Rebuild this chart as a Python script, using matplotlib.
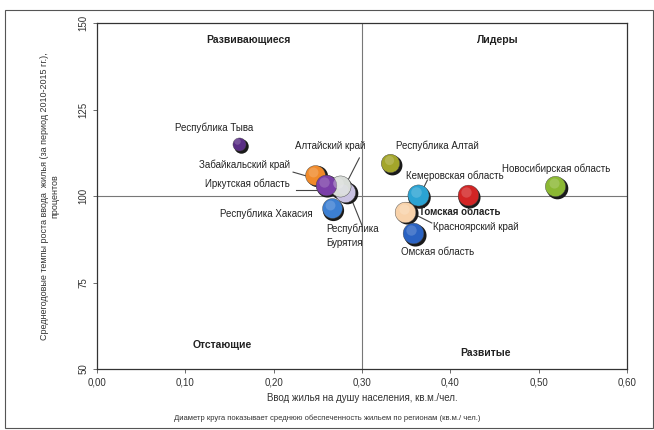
import numpy as np
import matplotlib
matplotlib.use("Agg")
import matplotlib.pyplot as plt
from matplotlib.patches import Rectangle
from matplotlib.colors import to_rgb

plt.rcParams['font.family'] = ['Liberation Sans', 'DejaVu Sans']

# regions: housing input per capita, growth rate, avg housing per capita
regions = ["Республика Бурятия", "Алтайский край", "Забайкальский край", "Иркутская область",
           "Республика Хакасия", "Республика Тыва", "Республика Алтай", "Красноярский край",
           "Кемеровская область", "Омская область", "Томская область", "Новосибирская область"]
input_per_capita = [0.281, 0.275, 0.247, 0.259, 0.266, 0.161, 0.332, 0.349, 0.363, 0.358, 0.420, 0.519]
growth_rate = [101.2, 102.9, 106.1, 103.2, 96.5, 115.0, 109.5, 95.4, 100.3, 89.3, 100.3, 102.9]
housing = [22.5, 23.5, 22.0, 23.0, 22.0, 14.5, 20.5, 23.0, 23.5, 23.0, 23.0, 22.5]
colors = ["#c9c2e2", "#d9ddd9", "#f08a2a", "#7a3ea8", "#3c7fd2", "#5a2e85", "#a3a52a",
          "#f8d2aa", "#2ba3d3", "#2a62c2", "#d22424", "#8bb833"]

quadrants = ["Развивающиеся", "Лидеры", "Отстающие", "Развитые"]
x_ticks = [0.0, 0.1, 0.2, 0.3, 0.4, 0.5, 0.6]
y_ticks = [50, 75, 100, 125, 150]

fig = plt.figure(figsize=(6.54, 4.30), dpi=100)
fig.patches.append(Rectangle((5 / 654, 2 / 430), 648 / 654, 418 / 430, transform=fig.transFigure,
                             fill=False, ec="#555555", lw=0.8))
ax = fig.add_axes([97 / 654, 61 / 430, 530 / 654, 346 / 430])

ax.set_xlim(0, 0.6)
ax.set_ylim(50, 150)
ax.axvline(0.3, color="#777777", lw=0.8, zorder=1)
ax.axhline(100, color="#777777", lw=0.8, zorder=1)

# bubbles: dark rim, body, highlight
for x, y, h, c in zip(input_per_capita, growth_rate, housing, colors):
    d = h * 0.9 * 0.72
    ax.scatter(x + 0.0015, y - 0.45, s=(d + 1.0) ** 2, color="#1a1a1a", zorder=3, lw=0)
    ax.scatter(x, y, s=d ** 2, color=c, zorder=4, lw=0.3, edgecolors="#444444")
    hi = np.array(to_rgb(c)) * 0.5 + 0.5
    ax.scatter(x - 0.002, y + 0.8, s=(d * 0.5) ** 2, color=hi, alpha=0.35, zorder=5, lw=0)

fs = 7
lbl = dict(fontsize=fs, color="#222222", zorder=6)
ax.text(0.133, 119.6, "Республика Тыва", ha="center", va="center", **lbl)
ax.text(0.219, 109.0, "Забайкальский край", ha="right", va="center", **lbl)
ax.text(0.218, 103.5, "Иркутская область", ha="right", va="center", **lbl)
ax.text(0.264, 114.5, "Алтайский край", ha="center", va="center", **lbl)
ax.text(0.244, 94.8, "Республика Хакасия", ha="right", va="center", **lbl)
ax.text(0.259, 90.5, "Республика", ha="left", va="center", **lbl)
ax.text(0.259, 86.5, "Бурятия", ha="left", va="center", **lbl)
ax.text(0.385, 114.5, "Республика Алтай", ha="center", va="center", **lbl)
ax.text(0.405, 105.8, "Кемеровская область", ha="center", va="center", **lbl)
ax.text(0.364, 95.3, "Томская область", ha="left", va="center", fontsize=fs,
        fontweight="bold", color="#222222", zorder=6)
ax.text(0.380, 91.0, "Красноярский край", ha="left", va="center", **lbl)
ax.text(0.385, 83.8, "Омская область", ha="center", va="center", **lbl)
ax.text(0.520, 108.0, "Новосибирская область", ha="center", va="center", **lbl)

# leader lines
lines = [((0.222, 106.9), (0.241, 105.5)),
         ((0.225, 101.6), (0.248, 101.6)),
         ((0.297, 111.0), (0.283, 104.0)),
         ((0.289, 98.5), (0.300, 91.5)),
         ((0.374, 104.6), (0.370, 102.5)),
         ((0.361, 94.5), (0.379, 92.2))]
for (x0, y0), (x1, y1) in lines:
    ax.plot([x0, x1], [y0, y1], color="#444444", lw=0.8, zorder=2)

qkw = dict(fontsize=7.5, fontweight="bold", color="#222222", ha="center", va="center")
ax.text(0.171, 145.2, quadrants[0], **qkw)
ax.text(0.454, 145.2, quadrants[1], **qkw)
ax.text(0.142, 56.8, quadrants[2], **qkw)
ax.text(0.440, 54.5, quadrants[3], **qkw)

ax.set_xticks(x_ticks)
ax.set_xticklabels([f"{t:.2f}".replace(".", ",") for t in x_ticks], fontsize=7, color="#333333")
ax.set_yticks(y_ticks)
ax.set_yticklabels([str(t) for t in y_ticks], fontsize=7, color="#333333", rotation=90, va="center")
ax.tick_params(length=3, width=0.6, color="#555555", pad=3)
for sp in ax.spines.values():
    sp.set_color("#333333")
    sp.set_linewidth(0.9)

ax.set_xlabel("Ввод жилья на душу населения, кв.м./чел.", fontsize=7, color="#333333", labelpad=4)
ax.set_ylabel("Среднегодовые темпы роста ввода  жилья (за период 2010-2015 гг.),\nпроцентов",
              fontsize=6.5, color="#333333", labelpad=14)
fig.text(0.5, 12 / 430, "Диаметр круга показывает среднюю обеспеченность жильем по регионам (кв.м./ чел.)",
         ha="center", va="center", fontsize=5.5, color="#333333")

fig.savefig("out.png", dpi=100)
